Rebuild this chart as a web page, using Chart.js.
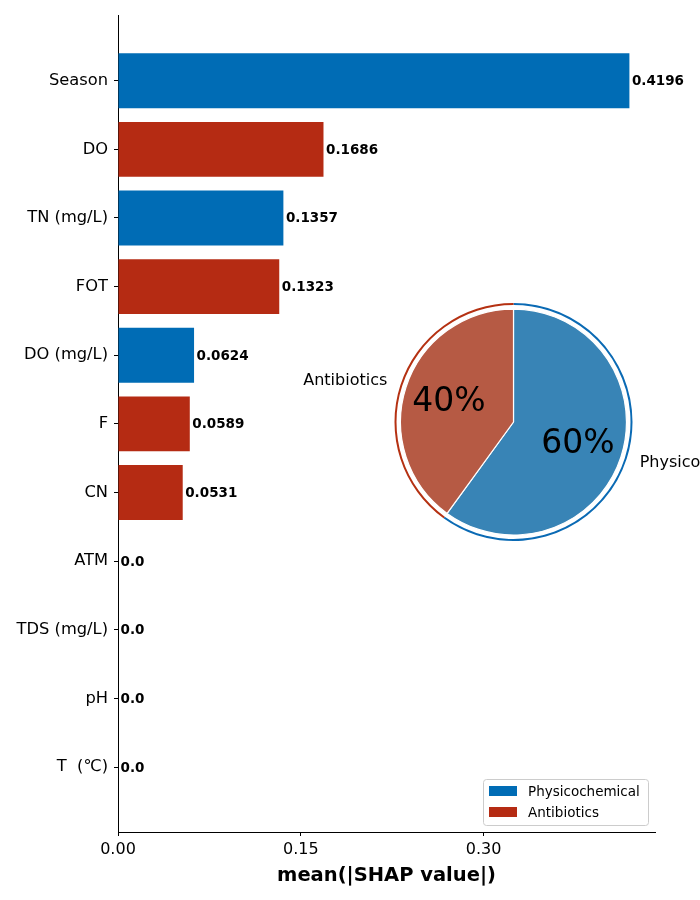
<!DOCTYPE html>
<html>
<head>
<meta charset="utf-8">
<script src="https://cdn.jsdelivr.net/npm/chart.js@4"></script>
<style>
  body { margin: 0; background: #fff; }
  #wrap { position: relative; width: 700px; height: 900px; overflow: hidden; }
  #bars { position: absolute; left: 0; top: 0; }
  #pie { position: absolute; left: 280px; top: 280px; }
</style>
</head>
<body>
<div id="wrap">
  <canvas id="bars" width="700" height="900"></canvas>
  <canvas id="pie" width="420" height="290"></canvas>
</div>
<script>
// data, top to bottom
const categories = ['Season', 'DO', 'TN (mg/L)', 'FOT', 'DO (mg/L)', 'F', 'CN', 'ATM', 'TDS (mg/L)', 'pH', 'T  (℃)'];
const shapValues = [0.4196, 0.1686, 0.1357, 0.1323, 0.0624, 0.0589, 0.0531, 0, 0, 0, 0];
const groups = ['Physicochemical', 'Antibiotics', 'Physicochemical', 'Antibiotics', 'Physicochemical',
                'Antibiotics', 'Antibiotics', 'Physicochemical', 'Physicochemical', 'Physicochemical', 'Physicochemical'];
const groupNames = ['Physicochemical', 'Antibiotics'];
const groupShare = [60, 40];
const xTicks = [0, 0.15, 0.30];

const barColor = { 'Physicochemical': '#006cb5', 'Antibiotics': '#b52b13' };
const pieColor = ['#3884b6', '#b65a44'];
const ringColor = ['#0a6ab4', '#b53112'];
const FONT = "'DejaVu Sans', sans-serif";

// value text at the end of each bar + legend box
const barExtras = {
  id: 'barExtras',
  afterDatasetsDraw(chart) {
    const ctx = chart.ctx;
    const meta = chart.getDatasetMeta(0);
    ctx.save();
    ctx.font = 'bold 13.5px ' + FONT;
    ctx.fillStyle = '#000';
    ctx.textBaseline = 'middle';
    ctx.textAlign = 'left';
    meta.data.forEach((bar, i) => {
      const v = shapValues[i];
      ctx.fillText(v === 0 ? '0.0' : String(v), bar.x + 2.5, bar.y + 1);
    });

    // legend
    const area = chart.chartArea;
    const w = 165, h = 46;
    const x0 = area.right - 7 - w, y0 = area.bottom - 7 - h;
    ctx.fillStyle = 'rgba(255,255,255,0.8)';
    ctx.strokeStyle = '#cccccc';
    ctx.lineWidth = 1;
    ctx.beginPath();
    ctx.roundRect(x0 + 0.5, y0 + 0.5, w, h, 3);
    ctx.fill();
    ctx.stroke();
    ctx.font = '13.5px ' + FONT;
    groupNames.forEach((g, i) => {
      const cy = y0 + 12 + i * 21;
      ctx.fillStyle = barColor[g];
      ctx.fillRect(x0 + 6, cy - 5, 28, 10);
      ctx.fillStyle = '#000';
      ctx.fillText(g, x0 + 45, cy + 1);
    });
    ctx.restore();
  }
};

new Chart('bars', {
  type: 'bar',
  data: {
    datasets: [{
      data: categories.map((c, i) => ({ x: shapValues[i], y: i })),
      backgroundColor: groups.map(g => barColor[g]),
      categoryPercentage: 0.8,
      barPercentage: 1
    }]
  },
  options: {
    indexAxis: 'y',
    responsive: false,
    animation: false,
    events: [],
    layout: { padding: { top: 15, right: 45, left: 0, bottom: 0 } },
    plugins: { legend: { display: false }, tooltip: { enabled: false } },
    scales: {
      y: {
        type: 'linear',
        reverse: true,
        offset: false,
        min: -0.946,
        max: 10.946,
        afterBuildTicks: s => { s.ticks = categories.map((c, i) => ({ value: i })); },
        afterFit: s => { s.width = 118; },
        ticks: {
          callback: v => categories[v],
          color: '#000',
          font: { family: FONT, size: 16.3 },
          padding: 6
        },
        grid: { offset: false, drawOnChartArea: false, drawTicks: true, tickLength: 4, color: '#000' },
        border: { display: true, color: '#000', width: 1 }
      },
      x: {
        type: 'linear',
        min: 0,
        max: 0.4406,
        afterBuildTicks: s => { s.ticks = xTicks.map(v => ({ value: v })); },
        afterFit: s => { s.height = 68; },
        ticks: {
          callback: v => v.toFixed(2),
          color: '#000',
          font: { family: FONT, size: 16 },
          padding: 4,
          maxRotation: 0
        },
        grid: { drawOnChartArea: false, drawTicks: true, tickLength: 4, color: '#000' },
        border: { display: true, color: '#000', width: 1 },
        title: {
          display: true,
          text: 'mean(|SHAP value|)',
          color: '#000',
          font: { family: FONT, size: 19.5, weight: 'bold' },
          padding: { top: 4, bottom: 12 }
        }
      }
    }
  },
  plugins: [barExtras]
});

// pie inset: percent text and outside labels
const pieLabels = {
  id: 'pieLabels',
  afterDraw(chart) {
    const ctx = chart.ctx;
    const ring = chart.getDatasetMeta(0).data[0];
    const arcs = chart.getDatasetMeta(2).data;
    const total = groupShare.reduce((a, b) => a + b, 0);
    ctx.save();
    ctx.fillStyle = '#000';
    ctx.textBaseline = 'middle';
    arcs.forEach((arc, i) => {
      const mid = (arc.startAngle + arc.endAngle) / 2;
      const c = Math.cos(mid), s = Math.sin(mid);
      ctx.font = '33px ' + FONT;
      ctx.textAlign = 'center';
      const rp = arc.outerRadius * 0.6;
      ctx.fillText(Math.round(groupShare[i] / total * 100) + '%', arc.x + c * rp, arc.y + s * rp + 1);
      ctx.font = '16px ' + FONT;
      ctx.textAlign = c > 0 ? 'left' : 'right';
      const rl = ring.outerRadius * 1.115;
      ctx.fillText(groupNames[i], arc.x + c * rl, arc.y + s * rl);
    });
    ctx.restore();
  }
};

new Chart('pie', {
  type: 'pie',
  data: {
    labels: groupNames,
    datasets: [
      { data: groupShare, backgroundColor: ringColor, borderWidth: 0, weight: 2, hoverOffset: 0 },
      { data: [1], backgroundColor: 'rgba(0,0,0,0)', borderWidth: 0, weight: 4, hoverOffset: 0 },
      { data: groupShare, backgroundColor: pieColor, borderColor: '#fff', borderWidth: 1.2, weight: 112.5, hoverOffset: 0 }
    ]
  },
  options: {
    responsive: false,
    animation: false,
    events: [],
    layout: { padding: { left: 114.5, right: 67.5, top: 23, bottom: 29 } },
    plugins: { legend: { display: false }, tooltip: { enabled: false } }
  },
  plugins: [pieLabels]
});
</script>
</body>
</html>
